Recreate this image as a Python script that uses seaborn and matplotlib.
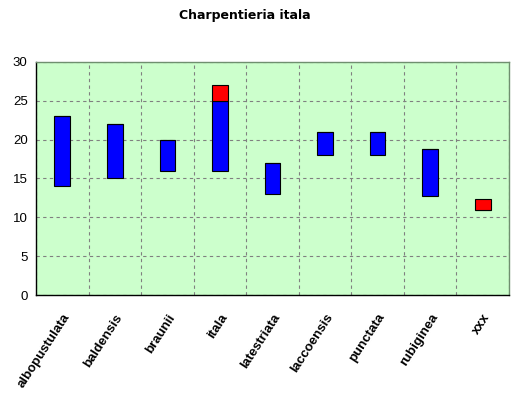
import matplotlib
matplotlib.use("Agg")
import matplotlib.pyplot as plt
import seaborn as sns

# data
species = ["albopustulata", "baldensis", "braunii", "itala", "latestriata",
           "laccoensis", "punctata", "rubiginea", "xxx"]
low = [14, 15, 16, 16, 13, 18, 18, 12.7, 11]
blue_height = [9, 7, 4, 9, 4, 3, 3, 6.1, 0]
red_height = [0, 0, 0, 2, 0, 0, 0, 0, 1.3]
title = "Charpentieria itala"

sns.set_style("white")
plt.rcParams["font.family"] = ["Liberation Sans", "DejaVu Sans"]
plt.rcParams["text.color"] = "black"
plt.rcParams["xtick.color"] = "black"
plt.rcParams["ytick.color"] = "black"

fig = plt.figure(figsize=(5.22, 3.94), dpi=100)
ax = fig.add_axes([36 / 522, 1 - 295 / 394, (509 - 36) / 522, (295 - 62) / 394])
ax.set_facecolor("#ccffcc")

red_bottom = [l + b for l, b in zip(low, blue_height)]
sns.barplot(x=species, y=blue_height, bottom=low, color="#0000ff", saturation=1,
            width=0.3, edgecolor="black", linewidth=0.8, ax=ax, zorder=3)
sns.barplot(x=species, y=red_height, bottom=red_bottom, color="#ff0000", saturation=1,
            width=0.3, edgecolor="black", linewidth=0.8, ax=ax, zorder=3)

ax.set_ylim(0, 30)
ax.set_xlim(-0.5, len(species) - 0.5)
ax.set_yticks(range(0, 31, 5))
ax.set_xticks([i - 0.5 for i in range(len(species) + 1)], minor=False)
ax.set_xticklabels([])
ax.set_xticks(range(len(species)), minor=True)
ax.set_xticklabels(species, minor=True, rotation=57, ha="right", va="top",
                   rotation_mode="anchor", fontsize=9.5, fontweight="bold")
ax.tick_params(axis="x", which="minor", length=0, pad=12)
ax.tick_params(axis="x", which="major", length=4, width=0.8, direction="out", color="black")
ax.tick_params(axis="y", length=4, width=0.8, direction="out", color="black", labelsize=9.5, pad=2)
ax.set_xlabel("")
ax.set_ylabel("")

ax.grid(True, which="major", color="#808080", linestyle=(0, (3, 3)), linewidth=0.8)
ax.set_axisbelow(True)
for side in ["top", "right"]:
    ax.spines[side].set_color("#6f8f6f")
    ax.spines[side].set_linewidth(1)
for side in ["left", "bottom"]:
    ax.spines[side].set_color("black")
    ax.spines[side].set_linewidth(1)

fig.text(245 / 522, 1 - 16 / 394, title, ha="center", va="center",
         fontsize=9, fontweight="bold", family="DejaVu Sans")

fig.savefig("out.png", dpi=100)
